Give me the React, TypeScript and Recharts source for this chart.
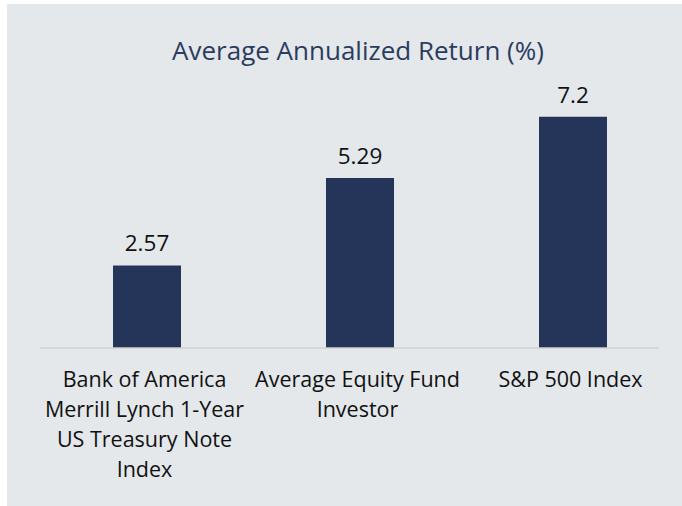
import { Bar, BarChart, LabelList, XAxis, YAxis } from "recharts";

// tick labels, with the line breaks the reference uses
const categories = [
	"Bank of America\nMerrill Lynch 1-Year\nUS Treasury Note\nIndex",
	"Average Equity Fund\nInvestor",
	"S&P 500 Index",
];
const returns = [2.57, 5.29, 7.2];
const yTicks = [0, 2, 4, 6, 8];

const FONT = "'Open Sans', sans-serif";
const NAVY = "#243559";

const data = categories.map((name, i) => ({ name, value: returns[i] }));

function CategoryTick(props: any) {
	const { x, y, payload } = props;
	const lines = String(payload.value).split("\n");
	return (
		<text x={x} y={y + 39} textAnchor="middle" fontFamily={FONT} fontSize={21.5} fill="#111">
			{lines.map((line, i) => (
				<tspan key={i} x={x - 2} dy={i === 0 ? 0 : 30}>
					{line}
				</tspan>
			))}
		</text>
	);
}

export default function App() {
	return (
		<div style={{ position: "absolute", left: 0, top: 0, width: 682, height: 506, background: "#fff" }}>
			<div
				style={{
					position: "absolute",
					left: 7,
					top: 4,
					width: 675,
					height: 502,
					background: "#e4e8eb",
				}}
			>
				<div
					style={{
						position: "absolute",
						left: 0,
						top: 29,
						width: 702,
						textAlign: "center",
						fontFamily: FONT,
						fontSize: 26,
						lineHeight: "34px",
						color: "#2b3c5e",
					}}
				>
					Average Annualized Return (%)
				</div>
				<BarChart
					width={675}
					height={502}
					data={data}
					margin={{ top: 87, right: 23, left: 33, bottom: 0 }}
				>
					<XAxis
						dataKey="name"
						height={158}
						padding={{ left: 0, right: -20 }}
						axisLine={{ stroke: "#cfd1d3", strokeWidth: 1.5 }}
						tickLine={false}
						tickSize={0}
						tickMargin={0}
						interval={0}
						tick={<CategoryTick />}
					/>
					<YAxis hide domain={[0, 8]} ticks={yTicks} />
					<Bar dataKey="value" fill={NAVY} barSize={68} isAnimationActive={false}>
						<LabelList
							dataKey="value"
							position="top"
							offset={14}
							fill="#111"
							fontFamily={FONT}
							fontSize={22.5}
						/>
					</Bar>
				</BarChart>
			</div>
		</div>
	);
}
